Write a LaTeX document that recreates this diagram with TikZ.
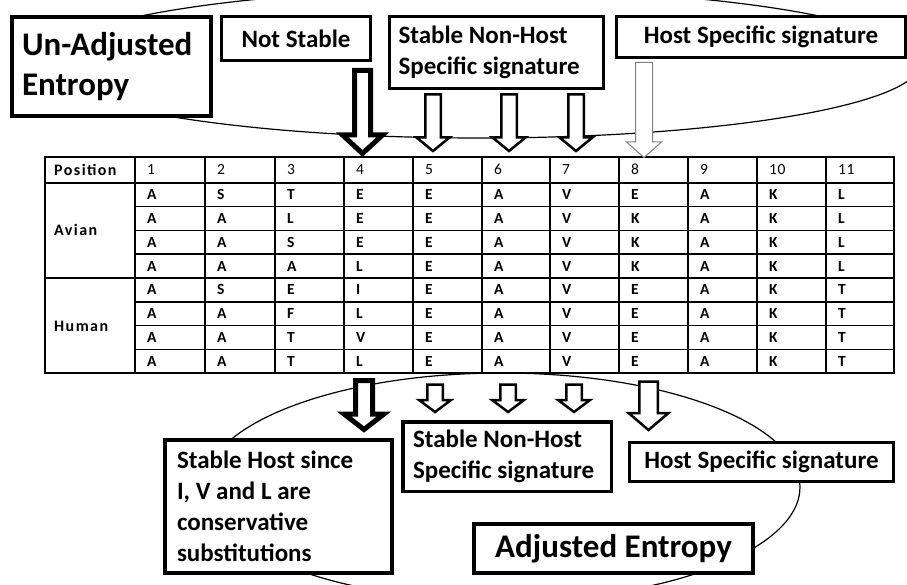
\documentclass[tikz,border=0pt]{standalone}
\usepackage{fontspec}
\setmainfont{Carlito}
\newfontfamily\spacedfont[LetterSpace=9]{Carlito}
\newfontfamily\cellfont[LetterSpace=4]{Carlito}
\definecolor{arrowgray}{RGB}{128,128,128}
\newcommand\blockarrow[7]{\draw[#1] ({#2-#6},#3) -- ({#2+#6},#3) -- ({#2+#6},#4) -- ({#2+#7},#4) -- (#2,#5) -- ({#2-#7},#4) -- ({#2-#6},#4) -- cycle;}
\begin{document}
\begin{tikzpicture}[x=1pt,y=-1pt,
  box/.style={draw=black, fill=white, inner sep=0pt, anchor=north west},
  mid/.style={font=\bfseries\fontsize{25}{31}\selectfont},
  big/.style={font=\bfseries\fontsize{33}{40}\selectfont},
  blk/.style={draw=black, fill=white, line width=2.5pt, miter limit=20},
  thk/.style={draw=black, fill=white, line width=5pt, miter limit=20},
  gry/.style={draw=arrowgray, fill=white, line width=1pt},
  ell/.style={draw=black, line width=1.2pt},
  grid/.style={draw=black, line width=1.5pt},
  cell/.style={anchor=base west, inner sep=0pt, font=\cellfont\bfseries\fontsize{15.5}{15}\selectfont},
  num/.style={anchor=base west, inner sep=0pt, font=\cellfont\fontsize{15.5}{15}\selectfont},
  rowlbl/.style={anchor=base west, inner sep=0pt, font=\spacedfont\bfseries\fontsize{16}{16}\selectfont},
]
\useasboundingbox (0,0) rectangle (907,585);
% ellipses
\begin{scope}
\clip (0,0) rectangle (907,585);
\draw[ell] (480,63.5) ellipse [x radius=440pt, y radius=74.5pt];
\draw[ell] (502,487) ellipse [x radius=298pt, y radius=114pt];
\end{scope}
% table grid
\draw[grid] (45,157) rectangle (894,373);
\draw[grid] (45,183) -- (894,183);
\draw[grid] (45,278) -- (894,278);
\foreach \k in {1,2,3,5,6,7} {
  \draw[grid] (135,{183+23.75*\k}) -- (894,{183+23.75*\k});
}
\foreach \x in {135,205,275,344,413,482,550,619,688,757,826} {
  \draw[grid] (\x,157) -- (\x,373);
}
% table text
\node[rowlbl] (pos) at (54,175.5) {Position};
\node[rowlbl] (avian) at (54,236) {Avian};
\node[rowlbl] (human) at (54,331) {Human};
\foreach \c in {1,...,11} {
  \pgfmathsetmacro\cx{{135,205,275,344,413,482,550,619,688,757,826}[\c-1]}
  \node[num] (h-\c) at ({\cx+12},175) {\c};
}
\foreach \row [count=\r] in {
  {A,S,T,E,E,A,V,E,A,K,L},
  {A,A,L,E,E,A,V,K,A,K,L},
  {A,A,S,E,E,A,V,K,A,K,L},
  {A,A,A,L,E,A,V,K,A,K,L},
  {A,S,E,I,E,A,V,E,A,K,T},
  {A,A,F,L,E,A,V,E,A,K,T},
  {A,A,T,V,E,A,V,E,A,K,T},
  {A,A,T,L,E,A,V,E,A,K,T}} {
  \foreach \l [count=\c] in \row {
    \pgfmathsetmacro\cx{{135,205,275,344,413,482,550,619,688,757,826}[\c-1]}
    \node[cell] (t-\r-\c) at ({\cx+12},{183+23.75*(\r-0.5)+5}) {\l};
  }
}
% top arrows
\blockarrow{thk}{362.5}{70.5}{135}{153.5}{8}{20}
\blockarrow{blk}{433}{94.5}{137.5}{151}{7.75}{16.5}
\blockarrow{blk}{509}{94.5}{137.5}{151}{7.75}{16.5}
\blockarrow{blk}{576}{94.5}{137.5}{151}{7.75}{16.5}
\blockarrow{gry}{644}{62.5}{142}{157.5}{8.5}{17.5}
% bottom arrows
\blockarrow{thk}{364}{380.5}{414}{429.5}{8.5}{20}
\blockarrow{blk}{435}{384.5}{400}{412}{7.75}{16}
\blockarrow{blk}{508}{384.5}{400}{412}{7.75}{16}
\blockarrow{blk}{574}{384.5}{400}{412}{7.75}{16}
\blockarrow{blk}{648.5}{381.5}{413}{430}{9.25}{20}
% top boxes
\node[box, big, line width=4pt, minimum width=199pt, minimum height=99pt,
      text width=179pt, inner xsep=10pt, align=flush left] (ua) at (10,15) {Un-Adjusted\\Entropy};
\node[box, mid, line width=3pt, minimum width=149pt, minimum height=44pt] (ns) at (220,15) {Not Stable};
\node[box, mid, line width=3pt, minimum width=214pt, minimum height=72pt,
      text width=196pt, inner xsep=9pt, align=flush left] (snh) at (388,15) {Stable Non-Host\\Specific signature};
\node[box, mid, line width=3pt, minimum width=289pt, minimum height=41pt] (hs) at (615,15) {Host Specific signature};
% bottom boxes
\node[box, mid, line width=4pt, minimum width=227pt, minimum height=133pt,
      text width=203pt, inner xsep=12pt, align=flush left] (sh) at (163,438) {Stable Host since\\I, V and L are\\conservative\\substitutions};
\node[box, mid, line width=3.5pt, minimum width=208.5pt, minimum height=69.5pt,
      text width=188pt, inner xsep=10pt, align=flush left] (snh2) at (401,420) {Stable Non-Host\\Specific signature};
\node[box, mid, line width=3pt, minimum width=264pt, minimum height=39pt] (hs2) at (628,441) {Host Specific signature};
\node[box, big, line width=4pt, minimum width=279pt, minimum height=49pt] (ae) at (472,522) {Adjusted Entropy};
\end{tikzpicture}
\end{document}
